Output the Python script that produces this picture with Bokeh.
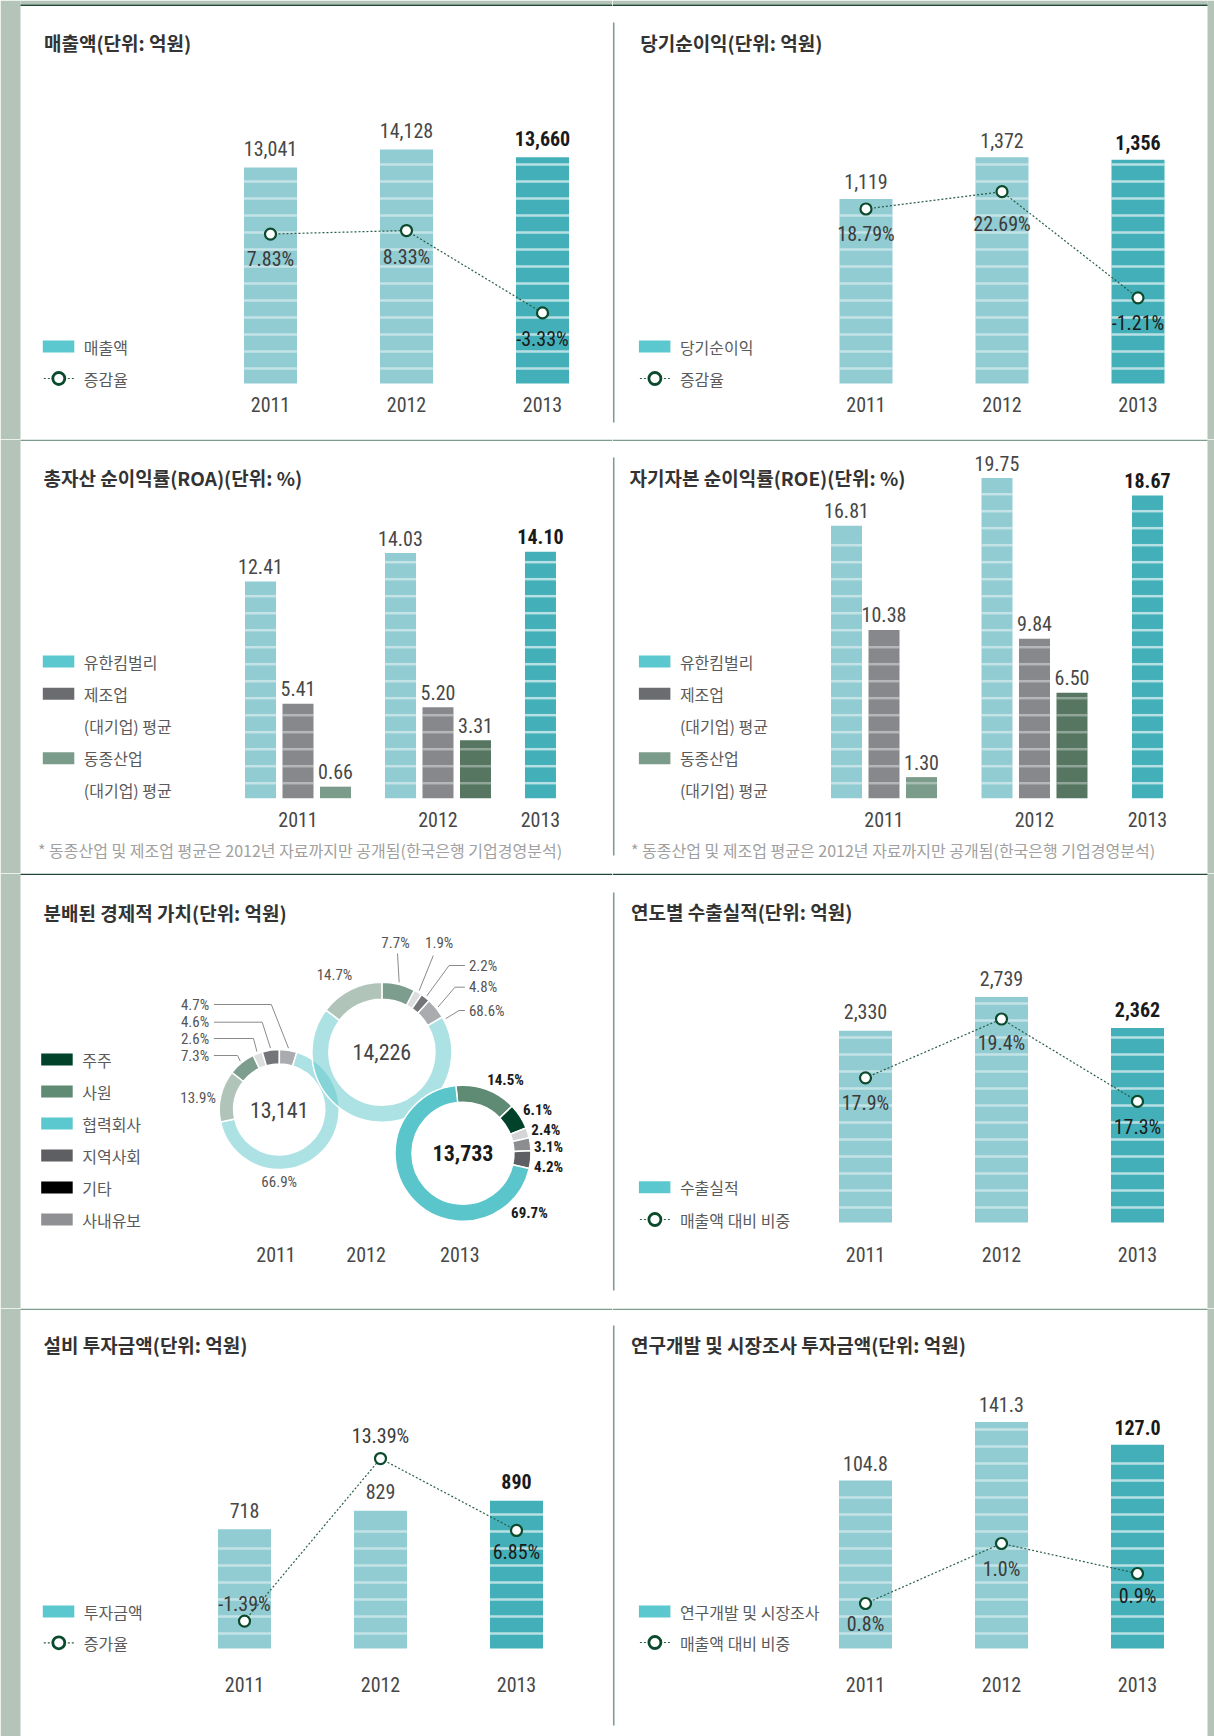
import math
from bokeh.plotting import figure
from bokeh.models import Range1d
from bokeh.layouts import column, row
from bokeh.embed import file_html
from bokeh.resources import INLINE
from bokeh.core.properties import value

# ======================= DATA =======================
YEARS = ["2011", "2012", "2013"]

SALES = [13041, 14128, 13660]              # 매출액 (억원)
SALES_GROWTH = [7.83, 8.33, -3.33]         # 증감율 (%)

NET_INCOME = [1119, 1372, 1356]            # 당기순이익 (억원)
NET_INCOME_GROWTH = [18.79, 22.69, -1.21]  # 증감율 (%)

ROA_YK = [12.41, 14.03, 14.10]             # 유한킴벌리
ROA_MFG = [5.41, 5.20]                     # 제조업(대기업) 평균 2011-2012
ROA_IND = [0.66, 3.31]                     # 동종산업(대기업) 평균 2011-2012

ROE_YK = [16.81, 19.75, 18.67]
ROE_MFG = [10.38, 9.84]
ROE_IND = [1.30, 6.50]

DIST_CATS = ["주주", "사원", "협력회사", "지역사회", "기타", "사내유보"]
DIST_TOTAL = [13141, 14226, 13733]
DIST_2011 = [7.3, 13.9, 66.9, 4.6, 2.6, 4.7]
DIST_2012 = [7.7, 14.7, 68.6, 2.2, 1.9, 4.8]
DIST_2013 = [6.1, 14.5, 69.7, 4.2, 2.4, 3.1]

EXPORT = [2330, 2739, 2362]                # 수출실적 (억원)
EXPORT_SHARE = [17.9, 19.4, 17.3]          # 매출액 대비 비중 (%)

CAPEX = [718, 829, 890]                    # 설비 투자금액 (억원)
CAPEX_GROWTH = [-1.39, 13.39, 6.85]        # 증가율 (%)

RND = [104.8, 141.3, 127.0]                # 연구개발 및 시장조사 (억원)
RND_SHARE = [0.8, 1.0, 0.9]                # 매출액 대비 비중 (%)

FOOTNOTE = "* 동종산업 및 제조업 평균은 2012년 자료까지만 공개됨(한국은행 기업경영분석)"

# ======================= STYLE / LAYOUT =======================
NUM_FONT = "Roboto Condensed, Liberation Sans Narrow, Roboto, sans-serif"
KR_FONT = "Noto Sans CJK KR"

ROWS = [(0, 439), (439, 873), (873, 1308), (1308, 1736)]
COLS = [(0, 612), (612, 1214)]
VLINES = [(22, 422), (457, 855), (892, 1290), (1325, 1725)]
SEP_COLORS = ["#1f4a37", "#7e9d8d", "#22473a", "#7e9d8d"]
STRIP = "#b4c4b9"
DIVIDER = "#7e9d8d"

BAR_LIGHT = "#92ccd3"
BAR_DARK = "#43afb8"
SWATCH = "#5bc8cf"
MFG_BAR = "#86888b"
IND_LIGHT = "#7b9b8b"
IND_DARK = "#567662"
LEG_MFG = "#6b6c70"
LEG_IND = "#7b9b8b"
LINE_GREEN = "#2a5e47"
MARK_GREEN = "#0b4a2c"
TITLE_COLOR = "#333333"
LEG_TEXT = "#5a5a5a"
LABEL_COLOR = "#474747"
STRONG = "#1a1a1a"

STRIPE_FIRST = 15.0
STRIPE_STEP = 17.0
BAR_PX = 53.0
CAT_PX = 136.0
SLOT_PX = 37.5
GROUP_BAR_PX = 31.0
NUM_SIZE = 20
LEG_SIZE = 16
TITLE_SIZE = 19


class Panel:
    def __init__(self, c, r, cx0=0.0, dx=1.0, by=0.0, s=1.0, rate_range=None):
        self.c, self.r = c, r
        self.px0, self.px1 = COLS[c]
        self.py0, self.py1 = ROWS[r]
        self.cx0, self.dx, self.by, self.s = cx0, dx, by, s
        extra = {"rate": Range1d(*rate_range)} if rate_range else {}
        p = figure(width=int(self.px1 - self.px0), height=int(self.py1 - self.py0),
                   x_range=Range1d(self.X(self.px0), self.X(self.px1)),
                   y_range=Range1d(self.Y(self.py1), self.Y(self.py0)),
                   extra_y_ranges=extra,
                   toolbar_location=None, output_backend="svg", min_border=0,
                   x_axis_location=None, y_axis_location=None)
        p.grid.visible = False
        p.outline_line_color = None
        p.background_fill_color = "white"
        p.border_fill_color = "white"
        p.title.visible = False
        self.p = p
        self.chrome()

    def X(self, px):
        return (px - self.cx0) / self.dx

    def Y(self, py):
        return (self.by - py) / self.s

    def rect(self, x0, y0, x1, y1, color):
        self.p.quad(left=[self.X(x0)], right=[self.X(x1)], top=[self.Y(y0)], bottom=[self.Y(y1)],
                    fill_color=color, line_color=None)

    def label(self, px, py, txt, font=KR_FONT, size=LEG_SIZE, color=LEG_TEXT, align="left", bold=False):
        self.p.text(x=[self.X(px)], y=[self.Y(py)], text=[txt], text_font=value(font),
                    text_font_size=value(f"{size}px"), text_color=color, text_align=align,
                    text_baseline="middle", text_font_style="bold" if bold else "normal")

    def title(self, px, py, txt):
        self.label(px, py, txt, font=KR_FONT, size=TITLE_SIZE, color=TITLE_COLOR, bold=True)

    def chrome(self):
        if self.c == 0:
            self.rect(self.px0, self.py0, 20, self.py1, STRIP)
            xs = 20
        else:
            self.rect(1207, self.py0, self.px1, self.py1, STRIP)
            xs = self.px0
        xe = 1207 if self.c == 1 else self.px1
        if self.r == 0:
            self.rect(xs, 0, xe, 4, STRIP)
            self.rect(xs, 4, xe, 5.6, SEP_COLORS[0])
        else:
            self.rect(xs, self.py0, xe, self.py0 + 1.6, SEP_COLORS[self.r])
        if self.c == 1:
            v0, v1 = VLINES[self.r]
            self.rect(612.4, v0, 614.0, v1, DIVIDER)

    def legend_swatch(self, x, y, color, txt):
        self.rect(x, y - 6, x + 31.5, y + 6, color)
        self.label(x + 41, y, txt)

    def legend_line(self, x, y, txt):
        self.p.line([self.X(x + 1), self.X(x + 31)], [self.Y(y), self.Y(y)], line_color=LINE_GREEN,
                    line_dash="2 2", line_width=1.2)
        self.p.scatter([self.X(x + 16)], [self.Y(y)], size=12, marker="circle", fill_color="white",
                       line_color=MARK_GREEN, line_width=2.8)
        self.label(x + 41, y, txt)

    def stripes(self, xs, tops, width, alphas):
        x0, x1, ys, al = [], [], [], []
        for x, t, a in zip(xs, tops, alphas):
            hpx = t * self.s
            k = 0
            while STRIPE_FIRST + STRIPE_STEP * k < hpx - 4:
                yy = (STRIPE_FIRST + STRIPE_STEP * k) / self.s
                x0.append(x - width / 2)
                x1.append(x + width / 2)
                ys.append(yy)
                al.append(a)
                k += 1
        self.p.segment(x0=x0, y0=ys, x1=x1, y1=ys, line_color="white", line_alpha=al, line_width=2.5)


def bar_line_panel(c, r, title, title_xy, vals, vfmt, rates, rfmt, bar_name, line_name,
                   cx0, by, s, rate_range, leg_x, leg_y, val_off, year_off, rate_offs):
    pn = Panel(c, r, cx0, CAT_PX, by, s, rate_range)
    p = pn.p
    idx = list(range(len(YEARS)))
    w = BAR_PX / CAT_PX
    p.vbar(x=idx, top=vals, bottom=0, width=w, fill_color=[BAR_LIGHT, BAR_LIGHT, BAR_DARK], line_color=None)
    pn.stripes(idx, vals, w, [0.45, 0.45, 0.62])
    p.line(idx, rates, y_range_name="rate", line_color=LINE_GREEN, line_dash="2 2", line_width=1.2)
    p.scatter(idx, rates, y_range_name="rate", size=11, marker="circle", fill_color="white",
              line_color=MARK_GREEN, line_width=2.2)
    p.text(x=idx, y=vals, text=[vfmt(v) for v in vals], y_offset=val_off,
           text_font=value(NUM_FONT), text_font_size=value(f"{NUM_SIZE}px"),
           text_color=[LABEL_COLOR, LABEL_COLOR, STRONG], text_font_style=["normal", "normal", "bold"],
           text_align="center", text_baseline="middle")
    p.text(x=idx, y=rates, text=[rfmt(v) for v in rates], y_offset=rate_offs, y_range_name="rate",
           text_font=value(NUM_FONT), text_font_size=value(f"{NUM_SIZE}px"),
           text_color=["#3a3a3a", "#3a3a3a", STRONG], text_align="center", text_baseline="middle")
    p.text(x=idx, y=[0] * len(idx), text=YEARS, y_offset=year_off, text_font=value(NUM_FONT),
           text_font_size=value(f"{NUM_SIZE}px"), text_color=LABEL_COLOR, text_align="center",
           text_baseline="middle")
    pn.title(title_xy[0], title_xy[1], title)
    pn.legend_swatch(leg_x, leg_y[0], SWATCH, bar_name)
    pn.legend_line(leg_x, leg_y[1], line_name)
    return p


def grouped_panel(c, r, title, title_xy, yk, mfg, ind, cx0, s, gap, leg_x, foot_x):
    base = 797.7
    pn = Panel(c, r, cx0, SLOT_PX, base, s)
    p = pn.p
    series = [(yk, [BAR_LIGHT, BAR_LIGHT, BAR_DARK], [0.45, 0.45, 0.62]),
              (mfg, [MFG_BAR, MFG_BAR], [0.4, 0.4]),
              (ind, [IND_LIGHT, IND_DARK], [0.35, 0.35])]
    xs, tops, cols, alph, styles, tcols, gpos = [], [], [], [], [], [], []
    cur = 0.0
    for yi in range(len(YEARS)):
        members = []
        for vals, cl, al in series:
            if yi < len(vals):
                xs.append(cur)
                tops.append(vals[yi])
                cols.append(cl[yi])
                alph.append(al[yi])
                strong = (yi == len(YEARS) - 1)
                styles.append("bold" if strong else "normal")
                tcols.append(STRONG if strong else LABEL_COLOR)
                members.append(cur)
                cur += 1.0
        gpos.append(sum(members) / len(members))
        cur += gap
    w = GROUP_BAR_PX / SLOT_PX
    p.vbar(x=xs, top=tops, bottom=0, width=w, fill_color=cols, line_color=None)
    pn.stripes(xs, tops, w, alph)
    p.text(x=xs, y=tops, text=[f"{v:.2f}" for v in tops], y_offset=-15, text_font=value(NUM_FONT),
           text_font_size=value(f"{NUM_SIZE}px"), text_color=tcols, text_font_style=styles,
           text_align="center", text_baseline="middle")
    p.text(x=gpos, y=[0] * len(gpos), text=YEARS, y_offset=21, text_font=value(NUM_FONT),
           text_font_size=value(f"{NUM_SIZE}px"), text_color=LABEL_COLOR, text_align="center",
           text_baseline="middle")
    pn.title(title_xy[0], title_xy[1], title)
    pn.legend_swatch(leg_x, 661, SWATCH, "유한킴벌리")
    pn.legend_swatch(leg_x, 693.3, LEG_MFG, "제조업")
    pn.label(leg_x + 41, 725, "(대기업) 평균")
    pn.legend_swatch(leg_x, 757.7, LEG_IND, "동종산업")
    pn.label(leg_x + 41, 789.3, "(대기업) 평균")
    pn.label(foot_x, 849.3, FOOTNOTE, size=16, color="#a0a0a0")
    return p


# ---------------- donut panel ----------------
DIST_COLORS = {"주주": "#00432a", "사원": "#5f8a74", "협력회사": "#5bc5cc",
               "지역사회": "#5e5f62", "기타": "#d4d5d7", "사내유보": "#8b8d90"}
DIST_FADED = {"주주": "#7d9e8f", "사원": "#b0c4b9", "협력회사": "#5bc5cc",
              "지역사회": "#737578", "기타": "#dcdddf", "사내유보": "#a9abae"}
DIST_LEGEND = {"주주": "#00432a", "사원": "#5f8a74", "협력회사": "#5bc8cf",
               "지역사회": "#5e5f62", "기타": "#000000", "사내유보": "#8e9093"}
ORDER_A = ["주주", "기타", "지역사회", "사내유보", "협력회사", "사원"]
ORDER_B = ["사원", "주주", "기타", "사내유보", "지역사회", "협력회사"]
DONUTS = [
    dict(center=(278.7, 1109.0), radii=(45.5, 60.0), start=142.0, order=ORDER_A, faded=True, year_x=275.5),
    dict(center=(381.4, 1051.7), radii=(53.0, 70.0), start=90.0, order=ORDER_A, faded=True, year_x=365.6),
    dict(center=(462.5, 1152.7), radii=(51.0, 68.0), start=96.0, order=ORDER_B, faded=False, year_x=459.3),
]
# label placement: category -> (x, y, align, leader points, leader fraction)
DONUT_LABELS = [
    {"사내유보": (208.7, 1004.0, "right", [(213.4, 1004.0), (270.8, 1004.0)], 0.5),
     "지역사회": (208.7, 1021.7, "right", [(213.4, 1021.7), (261.7, 1021.7)], 0.5),
     "기타": (208.7, 1038.0, "right", [(213.4, 1038.0), (253.0, 1038.0)], 0.5),
     "주주": (208.7, 1055.0, "right", [(213.4, 1055.0), (237.0, 1055.0)], 0.5),
     "사원": (215.4, 1097.7, "right", None, 0.5),
     "협력회사": (278.7, 1181.7, "center", None, 0.5)},
    {"사원": (334.0, 974.3, "center", None, 0.5),
     "주주": (395.0, 942.3, "center", [(397.0, 953.0)], 0.5),
     "기타": (438.7, 942.3, "center", [(432.8, 955.0)], 0.5),
     "지역사회": (468.4, 965.0, "left", [(464.4, 965.0), (448.6, 965.0)], 0.5),
     "사내유보": (468.4, 986.7, "left", [(464.4, 986.7), (454.5, 986.7)], 0.5),
     "협력회사": (468.4, 1010.0, "left", [(464.4, 1010.0), (458.5, 1010.0)], 0.01)},
    {"사원": (505.0, 1079.0, "center", None, 0.5),
     "주주": (522.5, 1109.0, "left", None, 0.5),
     "기타": (530.8, 1129.3, "left", None, 0.5),
     "사내유보": (533.6, 1146.7, "left", None, 0.5),
     "지역사회": (533.6, 1166.0, "left", None, 0.5),
     "협력회사": (528.9, 1212.3, "center", None, 0.5)},
]


def donut_panel():
    pn = Panel(0, 2)
    p = pn.p
    shares = [DIST_2011, DIST_2012, DIST_2013]
    for yi, d in enumerate(DONUTS):
        cx, cy = d["center"]
        rin, rout = d["radii"]
        vals = shares[yi]
        tot = sum(vals)
        ang = math.radians(d["start"])
        sa, ea, cols, alphas, info = [], [], [], [], {}
        for cat in d["order"]:
            v = vals[DIST_CATS.index(cat)]
            span = v / tot * 2 * math.pi
            sa.append(ang)
            ea.append(ang - span)
            if d["faded"]:
                cols.append(DIST_FADED[cat])
                alphas.append(0.5 if cat == "협력회사" else 1.0)
            else:
                cols.append(DIST_COLORS[cat])
                alphas.append(1.0)
            info[cat] = (ang, span, v)
            ang -= span
        p.annular_wedge(x=[pn.X(cx)] * len(sa), y=[pn.Y(cy)] * len(sa), inner_radius=rin, outer_radius=rout,
                        start_angle=sa, end_angle=ea, direction="clock", fill_color=cols, fill_alpha=alphas,
                        line_color="white", line_width=1.5)
        lab = DONUT_LABELS[yi]
        strong = not d["faded"]
        for cat, (lx, ly, align, leader, frac) in lab.items():
            a0, span, v = info[cat]
            pn.label(lx, ly, f"{v:.1f}%", font=NUM_FONT, size=15,
                     color=STRONG if strong else "#555555", align=align, bold=strong)
            if leader:
                am = a0 - frac * span
                ex = cx + (rout + 2) * math.cos(am)
                ey = cy - (rout + 2) * math.sin(am)
                pts = leader + [(ex, ey)]
                p.line([pn.X(q[0]) for q in pts], [pn.Y(q[1]) for q in pts], line_color="#8a8a8a", line_width=1)
        pn.label(cx, cy, f"{DIST_TOTAL[yi]:,}", font=NUM_FONT, size=22,
                 color=STRONG if strong else "#444444", align="center", bold=strong)
        pn.label(d["year_x"], 1254.3, YEARS[yi], font=NUM_FONT, size=NUM_SIZE, color=LABEL_COLOR, align="center")
    pn.title(43, 912, "분배된 경제적 가치(단위: 억원)")
    for i, cat in enumerate(DIST_CATS):
        pn.legend_swatch(40.7, 1059 + 32 * i, DIST_LEGEND[cat], cat)
    return p


p1 = bar_line_panel(0, 0, "매출액(단위: 억원)", (43.5, 42), SALES, lambda v: f"{v:,}",
                    SALES_GROWTH, lambda v: f"{v:.2f}%", "매출액", "증감율",
                    cx0=270, by=383, s=0.016556, rate_range=(-21.25, 40.89),
                    leg_x=42.3, leg_y=(346, 378), val_off=-19, year_off=21, rate_offs=[25, 26, 26])
p2 = bar_line_panel(1, 0, "당기순이익(단위: 억원)", (639.7, 42), NET_INCOME, lambda v: f"{v:,}",
                    NET_INCOME_GROWTH, lambda v: f"{v:.2f}%", "당기순이익", "증감율",
                    cx0=865.5, by=383, s=0.16492, rate_range=(-33.1, 65.72),
                    leg_x=638.4, leg_y=(346, 378), val_off=-17, year_off=21, rate_offs=[25, 32, 25])
p3 = grouped_panel(0, 1, "총자산 순이익률(ROA)(단위: %)", (43, 477), ROA_YK, ROA_MFG, ROA_IND,
                   cx0=260, s=17.47, gap=0.733, leg_x=42.3, foot_x=37.5)
p4 = grouped_panel(1, 1, "자기자본 순이익률(ROE)(단위: %)", (629, 477), ROE_YK, ROE_MFG, ROE_IND,
                   cx0=846, s=16.21, gap=1.013, leg_x=638.4, foot_x=630.5)
p5 = donut_panel()
p6 = bar_line_panel(1, 2, "연도별 수출실적(단위: 억원)", (630.5, 911), EXPORT, lambda v: f"{v:,}",
                    EXPORT_SHARE, lambda v: f"{v:.1f}%", "수출실적", "매출액 대비 비중",
                    cx0=865, by=1222, s=0.082295, rate_range=(12.02, 23.11),
                    leg_x=638.4, leg_y=(1186.7, 1219), val_off=-19, year_off=32, rate_offs=[25, 24, 26])
p7 = bar_line_panel(0, 3, "설비 투자금액(단위: 억원)", (43, 1344.3), CAPEX, lambda v: f"{v:,}",
                    CAPEX_GROWTH, lambda v: f"{v:.2f}%", "투자금액", "증가율",
                    cx0=244, by=1648, s=0.16604, rate_range=(-11.88, 27.03),
                    leg_x=42.3, leg_y=(1611, 1642.3), val_off=-19, year_off=36, rate_offs=[-17, -23, 22])
p8 = bar_line_panel(1, 3, "연구개발 및 시장조사 투자금액(단위: 억원)", (630.5, 1344), RND, lambda v: f"{v:.1f}",
                    RND_SHARE, lambda v: f"{v:.1f}%", "연구개발 및 시장조사", "매출액 대비 비중",
                    cx0=865, by=1648, s=1.6035, rate_range=(0.3567, 1.7833),
                    leg_x=638.4, leg_y=(1611, 1642), val_off=-17, year_off=36, rate_offs=[20, 25, 22])

layout = column(row(p1, p2), row(p3, p4), row(p5, p6), row(p7, p8))
open("out.html", "w").write(file_html(layout, INLINE))
